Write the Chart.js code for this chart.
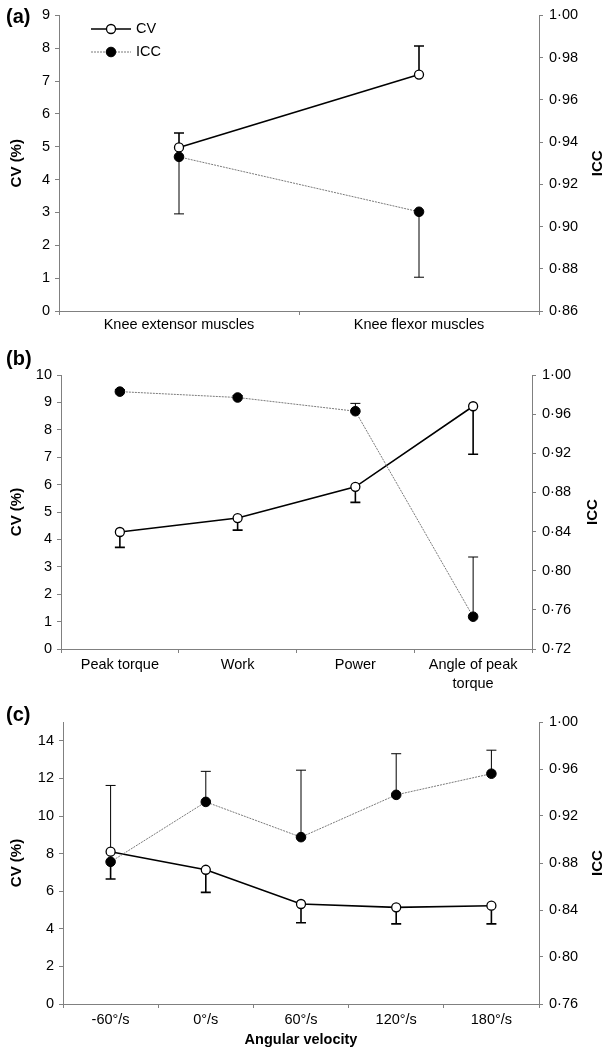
<!DOCTYPE html>
<html>
<head>
<meta charset="utf-8">
<script src="https://cdn.jsdelivr.net/npm/chart.js@4.4.0/dist/chart.umd.min.js"></script>
<style>
  body { margin: 0; background: #fff; width: 606px; height: 1050px; position: relative; overflow: hidden; }
  canvas { position: absolute; left: 0; }
</style>
</head>
<body>
<canvas id="chartA" width="606" height="340" style="top:0px"></canvas>
<canvas id="chartB" width="606" height="360" style="top:340px"></canvas>
<canvas id="chartC" width="606" height="350" style="top:700px"></canvas>
<script>
/* ---------- data ---------- */
// (a) muscle groups
const catsA = ["Knee extensor muscles", "Knee flexor muscles"];
const cvA = [4.98, 7.20];
const cvSdA = [0.44, 0.87];        // drawn upwards
const iccA = [0.933, 0.907];
const iccSdA = [0.027, 0.031];     // drawn downwards

// (b) variables
const catsB = ["Peak torque", "Work", "Power", ["Angle of peak", "torque"]];
const cvB = [4.27, 4.78, 5.92, 8.86];
const cvSdB = [0.56, 0.44, 0.57, 1.75];     // downwards
const iccB = [0.983, 0.977, 0.963, 0.753];
const iccSdB = [0.002, 0.002, 0.008, 0.061]; // upwards

// (c) angular velocity
const catsC = ["-60°/s", "0°/s", "60°/s", "120°/s", "180°/s"];
const cvC = [8.10, 7.14, 5.32, 5.14, 5.23];
const cvSdC = [1.45, 1.20, 1.00, 0.88, 0.97];     // downwards
const iccC = [0.881, 0.932, 0.902, 0.938, 0.956];
const iccSdC = [0.065, 0.026, 0.057, 0.035, 0.020]; // upwards

Chart.defaults.font.family = "'Liberation Sans', Arial, sans-serif";
Chart.defaults.color = "#000";

const AXIS_GREY = "#808080";
const iccFmt = v => Number(v).toFixed(2).replace(".", "·");

/* ---------- plugins ---------- */
function errorBarPlugin(bars) {
    return {
        id: "errorBars",
        beforeDatasetsDraw(chart) {
            const ctx = chart.ctx;
            bars.forEach(b => {
                const meta = chart.getDatasetMeta(b.dataset);
                const yScale = chart.scales[meta.yAxisID];
                const values = chart.data.datasets[b.dataset].data;
                ctx.save();
                ctx.strokeStyle = "#000";
                ctx.lineWidth = b.width;
                values.forEach((v, i) => {
                    const x = meta.data[i].x;
                    const y0 = yScale.getPixelForValue(v);
                    const y1 = yScale.getPixelForValue(v + b.dir * b.sd[i]);
                    ctx.beginPath();
                    ctx.moveTo(x, y0);
                    ctx.lineTo(x, y1);
                    ctx.moveTo(x - 5, y1);
                    ctx.lineTo(x + 5, y1);
                    ctx.stroke();
                });
                ctx.restore();
            });
        }
    };
}

function decorPlugin(panelLabel, labelY, iccX, withLegend) {
    return {
        id: "decor",
        afterDraw(chart) {
            const ctx = chart.ctx;
            const area = chart.chartArea;
            ctx.save();
            // panel label
            ctx.fillStyle = "#000";
            ctx.font = "bold 20px 'Liberation Sans', Arial, sans-serif";
            ctx.textAlign = "left";
            ctx.textBaseline = "middle";
            ctx.fillText(panelLabel, 6, labelY);

            // right axis title, reading bottom to top
            ctx.font = "bold 15px 'Liberation Sans', Arial, sans-serif";
            ctx.translate(iccX, (area.top + area.bottom) / 2);
            ctx.rotate(-Math.PI / 2);
            ctx.textAlign = "center";
            ctx.fillText("ICC", 0, 0);
            ctx.restore();

            if (withLegend) {
                const ds = chart.data.datasets;
                const rows = [{ d: ds[0], y: 29 }, { d: ds[1], y: 52 }];
                rows.forEach(r => {
                    ctx.save();
                    ctx.strokeStyle = r.d.borderColor;
                    ctx.lineWidth = r.d.borderWidth;
                    ctx.setLineDash(r.d.borderDash || []);
                    ctx.beginPath();
                    ctx.moveTo(91, r.y);
                    ctx.lineTo(131, r.y);
                    ctx.stroke();
                    ctx.setLineDash([]);
                    ctx.beginPath();
                    ctx.arc(111, r.y, r.d.pointRadius, 0, Math.PI * 2);
                    ctx.fillStyle = r.d.pointBackgroundColor;
                    ctx.fill();
                    ctx.lineWidth = r.d.pointBorderWidth;
                    ctx.strokeStyle = r.d.pointBorderColor;
                    ctx.stroke();
                    ctx.fillStyle = "#000";
                    ctx.font = "14.5px 'Liberation Sans', Arial, sans-serif";
                    ctx.textAlign = "left";
                    ctx.textBaseline = "middle";
                    ctx.fillText(r.d.label, 136, r.y);
                    ctx.restore();
                });
            }
        }
    };
}

/* ---------- one panel ---------- */
function drawPanel(p) {
    const datasets = [
        {
            label: "CV",
            data: p.cv,
            yAxisID: "yL",
            borderColor: "#000",
            borderWidth: 1.6,
            pointRadius: 4.5,
            pointBorderWidth: 1.3,
            pointBackgroundColor: "#fff",
            pointBorderColor: "#000",
            order: 1
        },
        {
            label: "ICC",
            data: p.icc,
            yAxisID: "yR",
            borderColor: "#7a7a7a",
            borderWidth: 1,
            borderDash: [2, 1],
            pointRadius: 4.8,
            pointBorderWidth: 1,
            pointBackgroundColor: "#000",
            pointBorderColor: "#000",
            order: 0
        }
    ];

    const tickFont = { size: 14.5, lineHeight: 1.3 };
    const grid = { drawOnChartArea: false, tickLength: 4, color: AXIS_GREY };
    const border = { color: AXIS_GREY, width: 1 };

    new Chart(document.getElementById(p.id), {
        type: "line",
        data: { labels: p.cats, datasets: datasets },
        options: {
            responsive: false,
            animation: false,
            layout: { padding: { top: p.top, left: 0, right: 0, bottom: 0 } },
            plugins: { legend: { display: false }, tooltip: { enabled: false } },
            scales: {
                x: {
                    type: "category",
                    offset: true,
                    grid: Object.assign({ offset: true }, grid),
                    border: border,
                    ticks: { autoSkip: false, maxRotation: 0, padding: p.xPad, font: tickFont },
                    title: p.xTitle
                        ? { display: true, text: p.xTitle, font: { size: 14.5, weight: "bold" }, padding: { top: 0, bottom: 1 } }
                        : { display: false },
                    afterFit(s) { s.height = p.xH; }
                },
                yL: {
                    type: "linear",
                    position: "left",
                    min: 0,
                    max: p.cvMax,
                    grid: grid,
                    border: border,
                    ticks: { stepSize: p.cvStep, padding: 5, font: tickFont, includeBounds: false },
                    title: { display: true, text: "CV (%)", font: { size: 15, weight: "bold" }, padding: { top: 8, bottom: 0 } },
                    afterFit(s) { s.width = p.leftW; }
                },
                yR: {
                    type: "linear",
                    position: "right",
                    min: p.iccMin,
                    max: 1.0,
                    grid: grid,
                    border: border,
                    ticks: { stepSize: p.iccStep, padding: 6, font: tickFont, callback: iccFmt },
                    afterFit(s) { s.width = p.rightW; }
                }
            }
        },
        plugins: [
            errorBarPlugin([
                { dataset: 0, sd: p.cvSd, dir: p.cvDir, width: 1.6 },
                { dataset: 1, sd: p.iccSd, dir: p.iccDir, width: 1 }
            ]),
            decorPlugin(p.label, p.labelY, p.iccX, p.legend)
        ]
    });
}

drawPanel({
    id: "chartA", label: "(a)", labelY: 17, legend: true, iccX: 598,
    cats: catsA, cv: cvA, cvSd: cvSdA, cvDir: 1, icc: iccA, iccSd: iccSdA, iccDir: -1,
    cvMax: 9, cvStep: 1, iccMin: 0.86, iccStep: 0.02,
    top: 15, leftW: 59, rightW: 67, xH: 29, xPad: 1
});

drawPanel({
    id: "chartB", label: "(b)", labelY: 19, legend: false, iccX: 593,
    cats: catsB, cv: cvB, cvSd: cvSdB, cvDir: -1, icc: iccB, iccSd: iccSdB, iccDir: 1,
    cvMax: 10, cvStep: 1, iccMin: 0.72, iccStep: 0.04,
    top: 35, leftW: 61, rightW: 74, xH: 51, xPad: 3
});

drawPanel({
    id: "chartC", label: "(c)", labelY: 15, legend: false, iccX: 598,
    cats: catsC, cv: cvC, cvSd: cvSdC, cvDir: -1, icc: iccC, iccSd: iccSdC, iccDir: 1,
    cvMax: 15, cvStep: 2, iccMin: 0.76, iccStep: 0.04,
    top: 22, leftW: 63, rightW: 67, xH: 46, xPad: 3, xTitle: "Angular velocity"
});
</script>
</body>
</html>
